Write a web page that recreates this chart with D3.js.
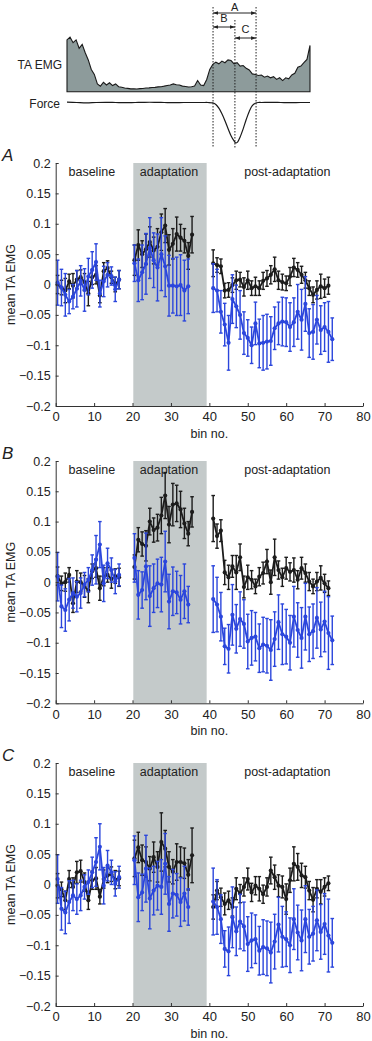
<html>
<head>
<meta charset="utf-8">
<script src="https://d3js.org/d3.v7.min.js"></script>
<style>
  body { margin: 0; background: #fff; }
  text { font-family: "Liberation Sans", Arial, sans-serif; fill: #222; }
</style>
</head>
<body>
<svg id="fig" width="372" height="1041"></svg>
<script>
// ---------- schematic data (percent of gait cycle) ----------
var emgT = d3.range(0, 100.01, 1.25);
var emgV = [0.93, 0.98, 0.88, 0.93, 0.78, 0.85, 0.7, 0.57, 0.4, 0.31,
            0.14, 0.1, 0.17, 0.12, 0.16, 0.11, 0.14, 0.09, 0.08, 0.065,
            0.06, 0.05, 0.052, 0.048, 0.055, 0.058, 0.066, 0.068, 0.076, 0.078,
            0.087, 0.09, 0.1, 0.112, 0.12, 0.14, 0.125, 0.12, 0.1, 0.092,
            0.084, 0.09, 0.1, 0.2, 0.12, 0.11, 0.22, 0.4, 0.49, 0.53,
            0.5, 0.55, 0.52, 0.57, 0.56, 0.5, 0.52, 0.46, 0.47, 0.42,
            0.39, 0.32, 0.31, 0.29, 0.3, 0.26, 0.28, 0.25, 0.27, 0.22,
            0.25, 0.2, 0.25, 0.23, 0.3, 0.33, 0.44, 0.46, 0.52, 0.58,
            0.83];
var forceT = [0, 4, 8, 12, 16, 20, 24, 28, 32, 36, 40, 44, 48, 52, 56, 58, 60, 61.25, 62.5, 63.75, 65,
              66.25, 67.5, 68.75, 69.5, 70.25, 71.25, 72.5, 73.75, 75, 76.25, 77.5, 78.75, 80, 84, 88,
              92, 96, 100];
var forceV = [0.01, 0, -0.01, 0, 0.005, 0, -0.005, 0, 0.005, 0.005, 0, -0.005, 0, 0, 0, 0, -0.01,
              -0.05, -0.14, -0.28, -0.45, -0.64, -0.82, -0.95, -1.0, -0.97, -0.85, -0.65, -0.42, -0.22,
              -0.08, -0.02, 0, 0, 0.005, 0, -0.005, 0, 0];
var windowT = [60.1, 69.1, 77.8];
var windowNames = ["A", "B", "C"];

// ---------- panel data ----------
var phaseLabels = ["baseline", "adaptation", "post-adaptation"];
var phaseCentres = [9.4, 29.5, 60.3];
var shadeBins = [20.2, 39.3];
var xTicks = [0, 10, 20, 30, 40, 50, 60, 70, 80];
var yTicks = [-0.2, -0.15, -0.1, -0.05, 0, 0.05, 0.1, 0.15, 0.2];
var yTickLabels = ["\u22120.2", "\u22120.15", "\u22120.1", "\u22120.05", "0", "0.05", "0.1", "0.15", "0.2"];

var blackBins = [0.5, 1.5, 2.5, 3.5, 4.5, 5.5, 6.5, 7.5, 8.5, 9.5, 10.5, 11.5, 12.5, 13.5, 14.5, 15.5, 16.5,
                 20.5, 21.5, 22.5, 23.5, 24.5, 25.5, 26.5, 27.5, 28.5, 29.5, 30.5, 31.5, 32.5, 33.5, 34.5, 35.5,
                 41, 42, 43, 44, 45, 46, 47, 48, 49, 50, 51, 52, 53, 54, 55, 56, 57, 58, 59, 60, 61, 62, 63,
                 64, 65, 66, 67, 68, 69, 70, 71];
var blueBins = [0.5, 1.5, 2.5, 3.5, 4.5, 5.5, 6.5, 7.5, 8.5, 9.5, 10.5, 11.5, 12.5, 13.5, 14.5, 15.5, 16.5,
                20.5, 21.5, 22.5, 23.5, 24.5, 25.5, 26.5, 27.5, 28.5, 29.5, 30.5, 31.5, 32.5, 33.5, 34.5,
                41, 42, 43, 44, 45, 46, 47, 48, 49, 50, 51, 52, 53, 54, 55, 56, 57, 58, 59, 60, 61, 62, 63,
                64, 65, 66, 67, 68, 69, 70, 71, 72];

var aBlack = [0.0, -0.005, -0.01, 0.005, -0.002, 0.008, 0.012, 0.004, -0.015, 0.012, 0.016, -0.018, 0.022, 0.027, 0.012, 0.0, 0.008,
              0.04, 0.065, 0.05, 0.058, 0.07, 0.056, 0.062, 0.086, 0.097, 0.057, 0.067, 0.083, 0.077, 0.072, 0.047, 0.082,
              0.035, 0.032, 0.03, -0.01, -0.009, -0.001, 0.007, 0.008, -0.004, 0.007, -0.006, -0.003, -0.006, 0.006, 0.01, 0.016,
              0.025, 0.007, 0.004, 0.002, 0.013, 0.028, 0.024, 0.016, 0.007, -0.006, -0.017, -0.009, -0.003, -0.006, -0.002];
var aBlackErr = [0.015, 0.012, 0.02, 0.012, 0.02, 0.015, 0.012, 0.014, 0.02, 0.012, 0.015, 0.012, 0.014, 0.012, 0.01, 0.012, 0.015,
                 0.025, 0.025, 0.022, 0.025, 0.025, 0.022, 0.03, 0.03, 0.028, 0.025, 0.025, 0.028, 0.022, 0.02, 0.022, 0.03,
                 0.022, 0.012, 0.012, 0.012, 0.012, 0.012, 0.015, 0.012, 0.015, 0.015, 0.012, 0.015, 0.012, 0.014, 0.013, 0.015,
                 0.02, 0.015, 0.013, 0.012, 0.015, 0.015, 0.012, 0.014, 0.013, 0.012, 0.013, 0.015, 0.02, 0.015, 0.014];
var aBlue = [0.003, -0.005, -0.017, -0.028, -0.02, -0.007, 0.006, -0.009, 0.013, 0.024, 0.037, -0.015, 0.005, 0.016, 0.014, -0.008, 0.008,
             0.035, 0.007, 0.02, 0.034, 0.06, 0.04, 0.028, 0.05, 0.03, -0.002, -0.002, -0.003, -0.001, -0.01, -0.003,
             -0.006, -0.01, -0.045, -0.066, -0.096, -0.024, -0.036, -0.05, -0.08, -0.088, -0.1, -0.064, -0.097, -0.096, -0.094, -0.093,
             -0.072, -0.064, -0.061, -0.062, -0.07, -0.062, -0.045, -0.058, -0.032, -0.08, -0.078, -0.058, -0.075, -0.07, -0.078, -0.09];
var aBlueErr = [0.037, 0.03, 0.035, 0.02, 0.02, 0.03, 0.025, 0.035, 0.03, 0.03, 0.03, 0.022, 0.025, 0.02, 0.015, 0.02, 0.015,
                0.03, 0.035, 0.045, 0.05, 0.05, 0.045, 0.055, 0.06, 0.05, 0.05, 0.045, 0.048, 0.05, 0.05, 0.045,
                0.04, 0.035, 0.035, 0.035, 0.045, 0.04, 0.035, 0.04, 0.035, 0.03, 0.03, 0.035, 0.04, 0.045, 0.045, 0.04,
                0.035, 0.035, 0.04, 0.04, 0.04, 0.04, 0.045, 0.05, 0.045, 0.04, 0.045, 0.04, 0.04, 0.04, 0.05, 0.035];

var bBlack = [0.01, -0.002, 0.0, 0.012, -0.035, 0.001, 0.0, -0.007, -0.014, 0.018, 0.023, -0.01, 0.009, 0.012, 0.005, 0.01, 0.008,
              0.025, 0.07, 0.063, 0.06, 0.1, 0.086, 0.09, 0.11, 0.143, 0.095, 0.128, 0.13, 0.12, 0.097, 0.08, 0.116,
              0.105, 0.076, 0.085, 0.016, 0.008, 0.026, 0.016, 0.041, -0.008, 0.008, 0.004, -0.007, 0.009, 0.015, 0.034, 0.0,
              0.041, 0.02, 0.008, 0.023, 0.017, 0.02, 0.004, 0.023, 0.015, 0.001, -0.007, 0.001, 0.007, -0.002, -0.01];
var bBlackErr = [0.015, 0.012, 0.015, 0.012, 0.015, 0.018, 0.015, 0.018, 0.02, 0.012, 0.015, 0.02, 0.015, 0.012, 0.015, 0.012, 0.015,
                 0.02, 0.02, 0.02, 0.025, 0.022, 0.02, 0.022, 0.03, 0.038, 0.03, 0.035, 0.03, 0.03, 0.025, 0.02, 0.025,
                 0.038, 0.02, 0.018, 0.02, 0.02, 0.018, 0.028, 0.022, 0.018, 0.02, 0.015, 0.012, 0.015, 0.018, 0.02, 0.02,
                 0.03, 0.015, 0.015, 0.018, 0.015, 0.02, 0.015, 0.018, 0.015, 0.015, 0.012, 0.015, 0.02, 0.015, 0.012];

var cBlack = [-0.002, -0.008, -0.026, 0.009, -0.004, 0.02, 0.022, 0.004, -0.026, 0.007, 0.01, -0.02, 0.009, 0.015, 0.017, 0.008, 0.01,
              0.043, 0.061, 0.04, 0.037, 0.026, 0.045, 0.029, 0.07, 0.059, 0.029, 0.021, 0.037, 0.037, 0.035, 0.016, 0.048,
              -0.037, -0.01, -0.021, -0.032, -0.026, -0.037, -0.007, -0.015, -0.004, 0.009, -0.013, -0.002, -0.007, -0.016, -0.004, 0.023,
              0.012, -0.002, -0.004, -0.024, 0.007, 0.034, 0.029, 0.015, 0.012, -0.01, -0.025, -0.007, -0.012, -0.004, 0.002];
var cBlackErr = [0.02, 0.012, 0.015, 0.014, 0.015, 0.018, 0.018, 0.015, 0.015, 0.015, 0.018, 0.012, 0.015, 0.012, 0.012, 0.015, 0.012,
                 0.03, 0.025, 0.025, 0.025, 0.02, 0.025, 0.025, 0.048, 0.03, 0.025, 0.02, 0.03, 0.025, 0.025, 0.025, 0.045,
                 0.02, 0.015, 0.015, 0.018, 0.015, 0.015, 0.018, 0.015, 0.015, 0.018, 0.015, 0.015, 0.02, 0.015, 0.015, 0.022,
                 0.02, 0.018, 0.018, 0.025, 0.02, 0.028, 0.022, 0.02, 0.018, 0.015, 0.02, 0.015, 0.02, 0.015, 0.012];

// the blue (control) trace is the same in panels B and C
var bcBlue = [0.009, -0.04, -0.046, -0.029, -0.018, -0.024, -0.018, -0.004, 0.004, 0.02, 0.037, 0.062, -0.002, 0.031, 0.02, 0.001, 0.012,
              0.04, -0.021, -0.013, 0.026, -0.023, -0.01, -0.002, -0.004, 0.034, -0.032, -0.015, -0.017, -0.029, -0.015, -0.037,
              -0.028, -0.037, -0.057, -0.106, -0.11, -0.054, -0.077, -0.061, -0.069, -0.098, -0.092, -0.09, -0.109, -0.103, -0.105, -0.112,
              -0.094, -0.066, -0.086, -0.09, -0.1, -0.057, -0.079, -0.092, -0.057, -0.086, -0.081, -0.059, -0.078, -0.065, -0.084, -0.096];
var bcBlueErr = [0.04, 0.035, 0.035, 0.035, 0.025, 0.025, 0.025, 0.02, 0.02, 0.025, 0.04, 0.038, 0.03, 0.025, 0.02, 0.02, 0.018,
                 0.04, 0.04, 0.03, 0.055, 0.05, 0.04, 0.04, 0.045, 0.05, 0.045, 0.04, 0.035, 0.04, 0.045, 0.03,
                 0.055, 0.045, 0.04, 0.03, 0.04, 0.05, 0.04, 0.045, 0.04, 0.045, 0.045, 0.04, 0.04, 0.045, 0.045, 0.05,
                 0.045, 0.045, 0.05, 0.045, 0.045, 0.05, 0.045, 0.05, 0.055, 0.045, 0.045, 0.05, 0.045, 0.05, 0.06, 0.04];

var BLACK = "#1c1c1c", BLUE = "#2b46dc";
var svg = d3.select("#fig");

function drawSchematic() {
    var tx = d3.scaleLinear().domain([0, 100]).range([67, 310]);
    var ey = d3.scaleLinear().domain([0, 1]).range([91.7, 36]);
    var fy = d3.scaleLinear().domain([-1, 0]).range([143, 102.5]);
    var g = svg.append("g");

    var area = d3.area().x((d, i) => tx(emgT[i])).y0(ey(0)).y1(d => ey(d));
    g.append("path").datum(emgV).attr("d", area).attr("fill", "#8d9b9b")
        .attr("stroke", "#1a1a1a").attr("stroke-width", 1.1);

    var fl = d3.line().x((d, i) => tx(forceT[i])).y(d => fy(d)).curve(d3.curveCatmullRom);
    g.append("path").datum(forceV).attr("d", fl).attr("fill", "none")
        .attr("stroke", "#1a1a1a").attr("stroke-width", 1.2);

    g.append("text").attr("x", 62).attr("y", 69).attr("text-anchor", "end").attr("font-size", 12).text("TA EMG");
    g.append("text").attr("x", 60).attr("y", 108).attr("text-anchor", "end").attr("font-size", 12).text("Force");

    // dotted window markers
    g.selectAll(".win").data(windowT).enter().append("line")
        .attr("x1", d => tx(d)).attr("x2", d => tx(d))
        .attr("y1", (d, i) => i == 1 ? 20 : 7).attr("y2", 148)
        .attr("stroke", "#222").attr("stroke-width", 1).attr("stroke-dasharray", "1.5,1.5");

    var defs = svg.append("defs");
    defs.append("marker").attr("id", "arr").attr("viewBox", "0 0 8 8").attr("refX", 8).attr("refY", 4)
        .attr("markerWidth", 5).attr("markerHeight", 5).attr("orient", "auto-start-reverse")
        .append("path").attr("d", "M0,1 L8,4 L0,7 Z").attr("fill", "#222");

    var spans = [[windowT[0], windowT[2], 13, 10.5], [windowT[0], windowT[1], 27, 25], [windowT[1], windowT[2], 38, 36]];
    spans.forEach(function (s, i) {
        g.append("line").attr("x1", tx(s[0])).attr("x2", tx(s[1])).attr("y1", s[2]).attr("y2", s[2])
            .attr("stroke", "#222").attr("stroke-width", 1)
            .attr("marker-start", "url(#arr)").attr("marker-end", "url(#arr)");
        g.append("text").attr("x", (tx(s[0]) + tx(s[1])) / 2).attr("y", s[3] - (i == 0 ? 0 : 3))
            .attr("text-anchor", "middle").attr("font-size", 11).text(windowNames[i]);
    });
}

function phaseOf(b) { return b < 19 ? 0 : (b < 39 ? 1 : 2); }

function drawSeries(g, x, y, bins, vals, errs, col) {
    var pts = bins.map((b, i) => ({ b: b, v: vals[i], e: errs[i] }));
    var groups = d3.groups(pts, d => phaseOf(d.b));
    var line = d3.line().x(d => x(d.b)).y(d => y(d.v));
    g.selectAll(null).data(groups).enter().append("path")
        .attr("d", d => line(d[1])).attr("fill", "none").attr("stroke", col).attr("stroke-width", 1.8);
    var eb = g.selectAll(null).data(pts).enter().append("g").attr("stroke", col).attr("stroke-width", 1.4);
    eb.append("line").attr("x1", d => x(d.b)).attr("x2", d => x(d.b))
        .attr("y1", d => y(d.v - d.e)).attr("y2", d => y(d.v + d.e));
    eb.append("line").attr("x1", d => x(d.b) - 1.8).attr("x2", d => x(d.b) + 1.8)
        .attr("y1", d => y(d.v + d.e)).attr("y2", d => y(d.v + d.e));
    eb.append("line").attr("x1", d => x(d.b) - 1.8).attr("x2", d => x(d.b) + 1.8)
        .attr("y1", d => y(d.v - d.e)).attr("y2", d => y(d.v - d.e));
    g.selectAll(null).data(pts).enter().append("circle")
        .attr("cx", d => x(d.b)).attr("cy", d => y(d.v)).attr("r", 2.1).attr("fill", col);
}

function drawPanel(letter, top, bottom, blk, blkErr, blu, bluErr) {
    var x = d3.scaleLinear().domain([0, 80]).range([55.7, 363]);
    var y = d3.scaleLinear().domain([-0.2, 0.2]).range([bottom, top]);
    var g = svg.append("g");

    g.append("rect").attr("x", x(shadeBins[0])).attr("width", x(shadeBins[1]) - x(shadeBins[0]))
        .attr("y", top).attr("height", bottom - top).attr("fill", "#c4caca");

    g.selectAll(null).data(phaseLabels).enter().append("text")
        .attr("x", (d, i) => x(phaseCentres[i])).attr("y", top + 13)
        .attr("text-anchor", "middle").attr("font-size", 12.5).text(d => d);

    drawSeries(g, x, y, blackBins, blk, blkErr, BLACK);
    drawSeries(g, x, y, blueBins, blu, bluErr, BLUE);

    var ya = g.append("g").attr("transform", "translate(" + x(0) + ",0)")
        .call(d3.axisLeft(y).tickValues(yTicks).tickFormat((d, i) => yTickLabels[i])
            .tickSizeInner(-3).tickSizeOuter(0).tickPadding(5));
    var xa = g.append("g").attr("transform", "translate(0," + bottom + ")")
        .call(d3.axisBottom(x).tickValues(xTicks).tickSizeInner(-3).tickSizeOuter(0).tickPadding(6));
    ya.selectAll("text").attr("font-size", 12.5);
    xa.selectAll("text").attr("font-size", 13);
    [ya, xa].forEach(function (a) {
        a.selectAll("text").attr("font-family", "Liberation Sans, Arial, sans-serif").attr("fill", "#222");
        a.selectAll("path,line").attr("stroke", "#333");
    });

    g.append("text").attr("x", (x(0) + x(80)) / 2).attr("y", bottom + 32)
        .attr("text-anchor", "middle").attr("font-size", 12.5).text("bin no.");
    g.append("text").attr("transform", "translate(15," + (top + bottom) / 2 + ") rotate(-90)")
        .attr("text-anchor", "middle").attr("font-size", 12.5).text("mean TA EMG");
    g.append("text").attr("x", 2).attr("y", top - 2).attr("font-size", 17)
        .attr("font-style", "italic").text(letter);
}

drawSchematic();
drawPanel("A", 163, 406, aBlack, aBlackErr, aBlue, aBlueErr);
drawPanel("B", 461, 703.3, bBlack, bBlackErr, bcBlue, bcBlueErr);
drawPanel("C", 763, 1006, cBlack, cBlackErr, bcBlue, bcBlueErr);
</script>
</body>
</html>
